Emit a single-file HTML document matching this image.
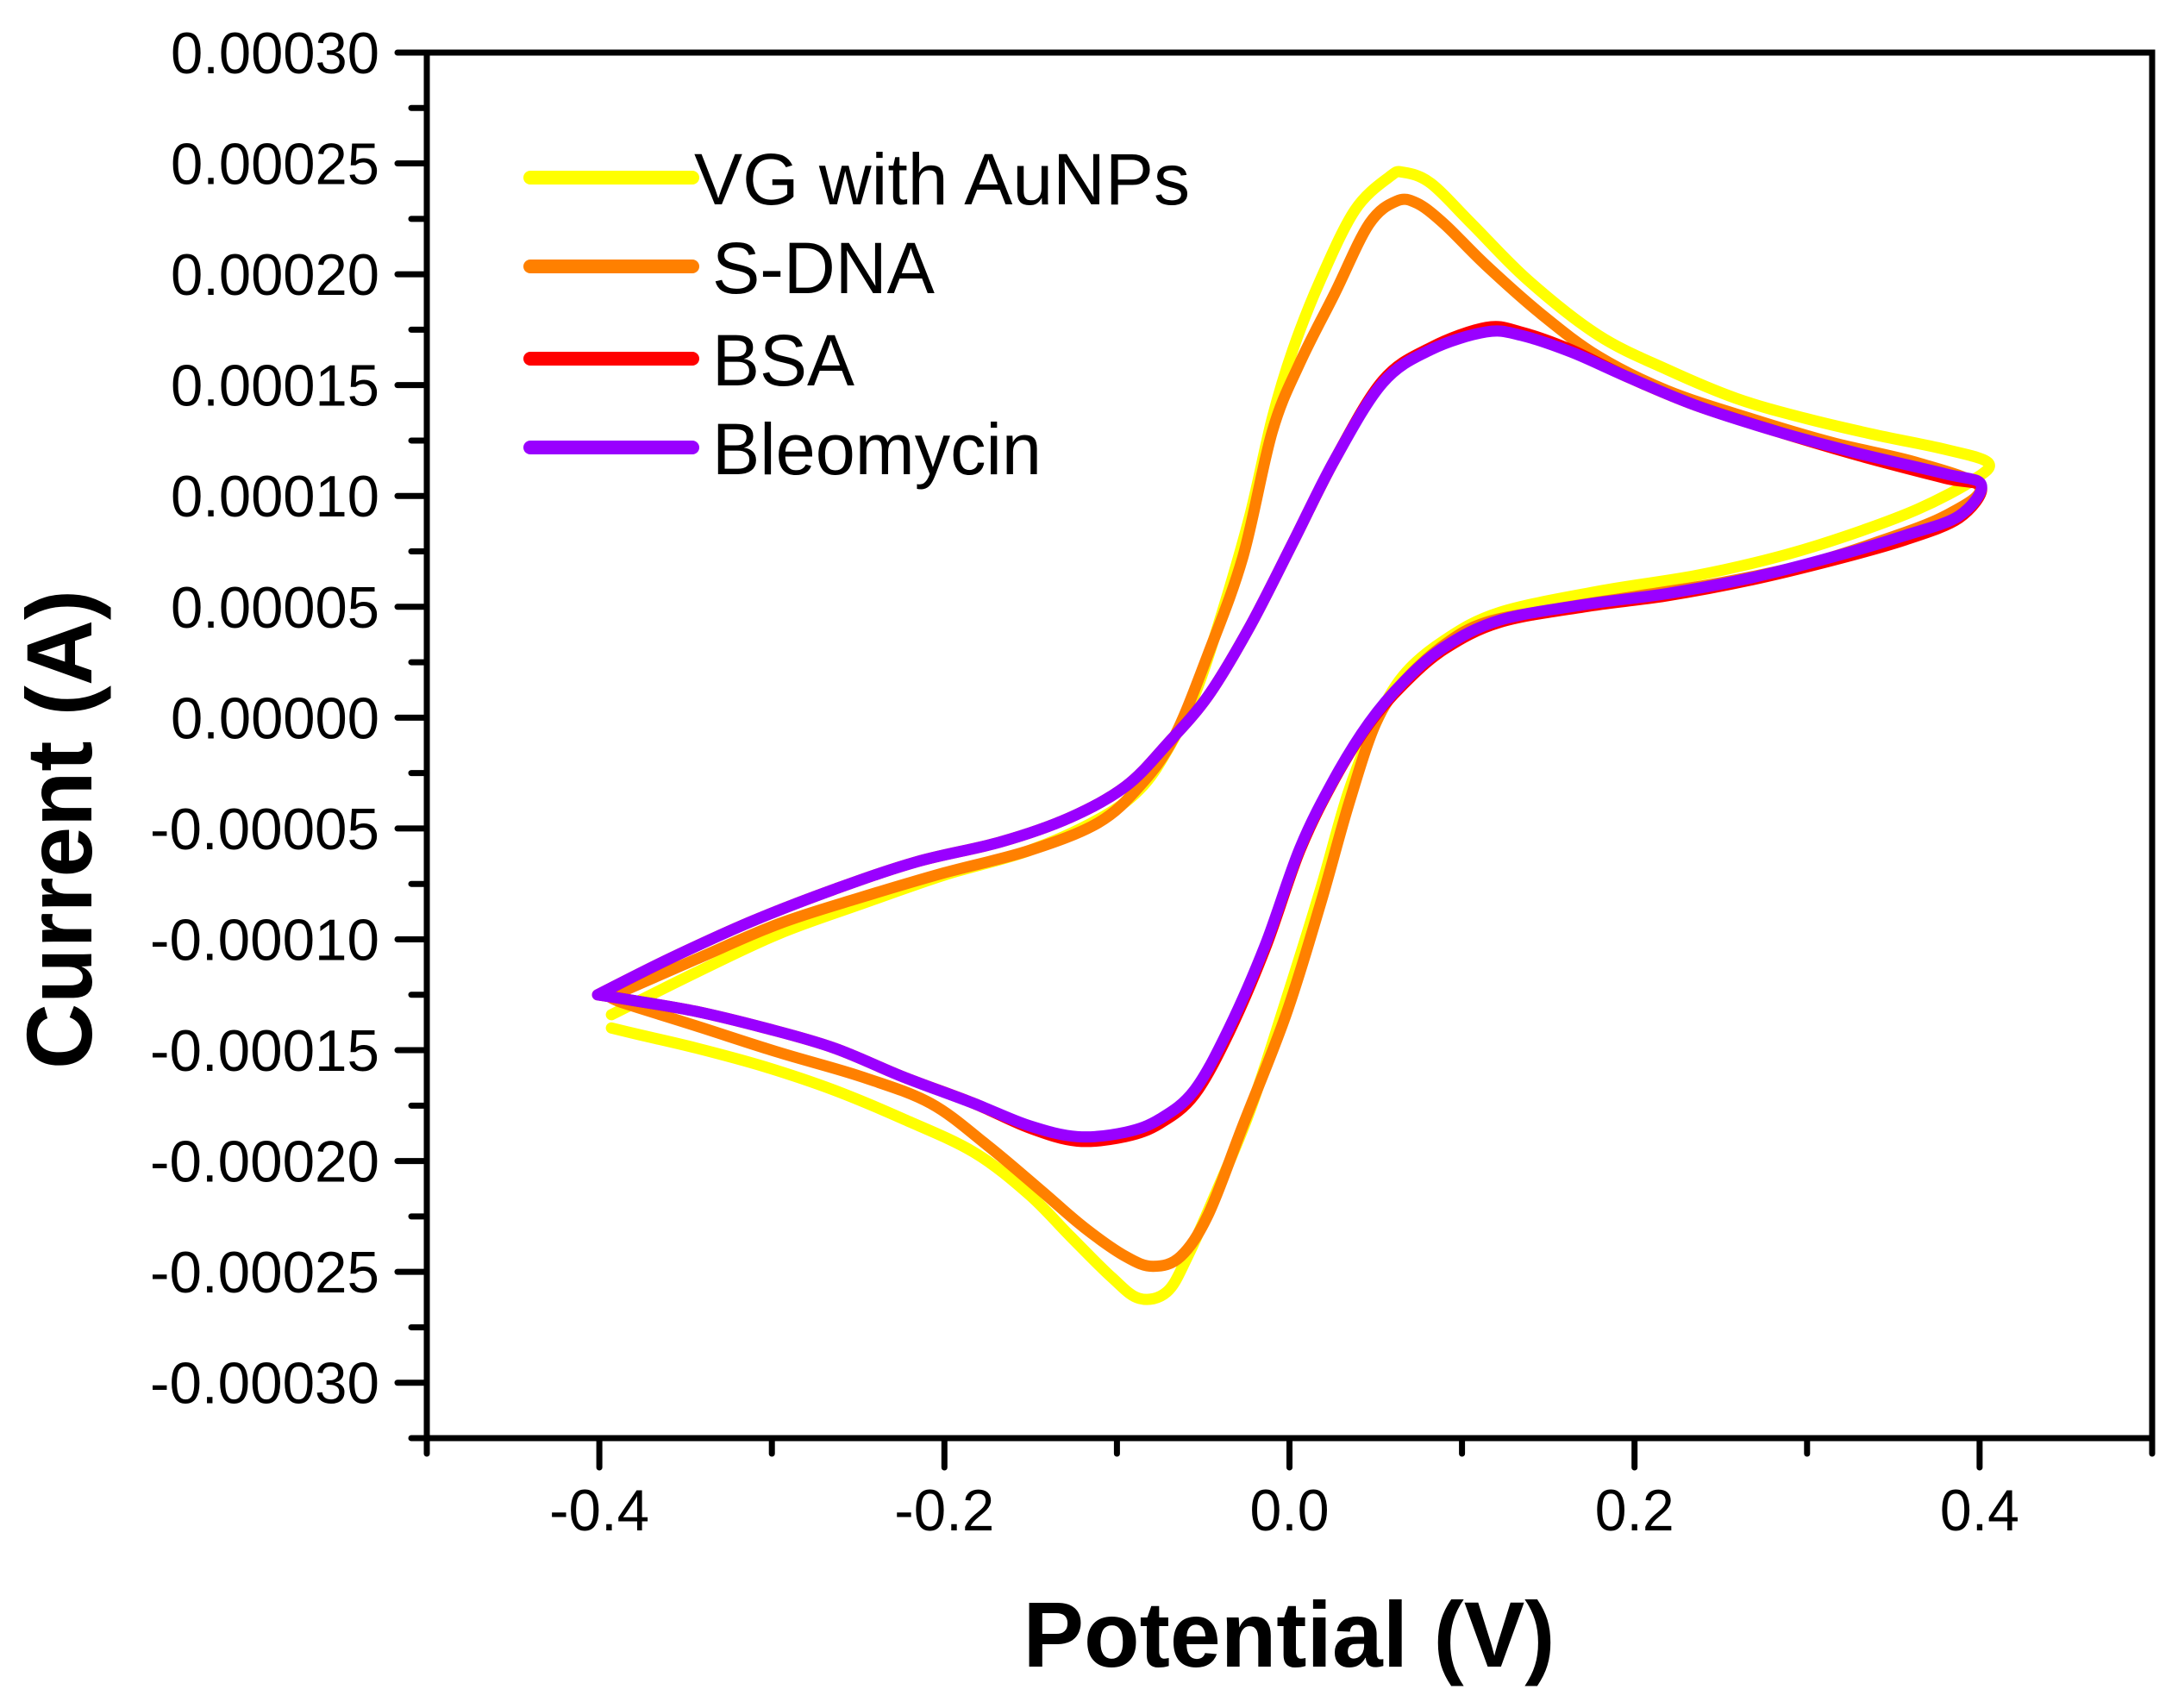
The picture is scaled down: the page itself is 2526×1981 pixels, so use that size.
<!DOCTYPE html>
<html><head><meta charset="utf-8"><style>
html,body{margin:0;padding:0;background:#fff;}
svg{display:block;font-family:"Liberation Sans",Arial,sans-serif;}
</style></head><body>
<svg id="chart" width="2526" height="1981" viewBox="0 0 2526 1981" xmlns="http://www.w3.org/2000/svg">
<rect x="0" y="0" width="2526" height="1981" fill="#fff"/>
<g id="curves"></g>
<g id="axes"></g>
<g id="legend"></g>
<text x="1495" y="1933" text-anchor="middle" font-weight="bold" font-size="108" textLength="617" lengthAdjust="spacingAndGlyphs">Potential (V)</text>
<text transform="translate(106,962) rotate(-90)" text-anchor="middle" font-weight="bold" font-size="108" textLength="556" lengthAdjust="spacingAndGlyphs">Current (A)</text>
</svg>
<script>
const xTicks=[-0.4,-0.2,0.0,0.2,0.4];
const xTickLabels=["-0.4","-0.2","0.0","0.2","0.4"];
const xMinorTicks=[-0.5,-0.3,-0.1,0.1,0.3,0.5];
const yTicks=[0.0003,0.00025,0.0002,0.00015,0.0001,0.00005,0,-0.00005,-0.0001,-0.00015,-0.0002,-0.00025,-0.0003];
const yTickLabels=["0.00030","0.00025","0.00020","0.00015","0.00010","0.00005","0.00000","-0.00005","-0.00010","-0.00015","-0.00020","-0.00025","-0.00030"];
const seriesNames=["VG with AuNPs","S-DNA","BSA","Bleomycin"];
// potentials in V, currents in microamps
const vgPotential=[-0.393,-0.344,-0.296,-0.248,-0.200,-0.151,-0.111,-0.087,-0.071,-0.055,-0.039,-0.023,-0.010,0.002,0.018,0.038,0.058,0.066,0.082,0.106,0.138,0.179,0.219,0.259,0.299,0.340,0.380,0.405,
 0.396,0.364,0.323,0.283,0.235,0.179,0.122,0.090,0.066,0.050,0.034,0.018,-0.002,-0.023,-0.043,-0.059,-0.071,-0.087,-0.103,-0.127,-0.151,-0.183,-0.224,-0.264,-0.304,-0.344,-0.377,-0.393];
const vgCurrent=[-134,-115,-97.5,-84,-71,-60,-46,-32.5,-15,10,47.5,91,135,166,197.5,229,244,246,241,222.5,197.5,172.5,157,144,135,127.5,121,115,
 107,94,82,72.5,64,57,47.5,35,19,-2.5,-34,-77.5,-127.5,-177.5,-215,-243,-259,-262,-252.5,-234,-215,-196,-181,-168,-157.5,-149,-143,-140];
const sdnaPotential=[-0.394,-0.344,-0.296,-0.248,-0.200,-0.151,-0.111,-0.087,-0.067,-0.047,-0.027,-0.010,0.006,0.026,0.046,0.062,0.074,0.090,0.114,0.146,0.179,0.219,0.267,0.315,0.364,0.400,
 0.380,0.340,0.299,0.251,0.203,0.154,0.114,0.090,0.066,0.050,0.034,0.018,-0.002,-0.027,-0.047,-0.063,-0.079,-0.095,-0.119,-0.143,-0.175,-0.208,-0.248,-0.296,-0.344,-0.385,-0.394];
const sdnaCurrent=[-126,-109,-93,-81,-70,-60,-47.5,-31,-9,29,72.5,129,160,191,222.5,233,232,222.5,204,182,163,147.5,135,124,115,104,
 91,79,69,61,55,49,43,33,16,-2.5,-40,-84,-134,-184,-224,-243,-247.5,-243,-230,-214,-193,-174,-162,-151,-139,-129,-126];
const bsaPotential=[-0.401,-0.360,-0.312,-0.264,-0.216,-0.167,-0.127,-0.095,-0.071,-0.047,-0.023,0.002,0.026,0.054,0.082,0.114,0.134,0.163,0.195,0.235,0.283,0.331,0.380,0.401,
 0.388,0.356,0.315,0.267,0.219,0.171,0.122,0.090,0.066,0.046,0.026,0.006,-0.014,-0.035,-0.055,-0.075,-0.095,-0.123,-0.151,-0.183,-0.224,-0.264,-0.304,-0.344,-0.381,-0.401];
const bsaCurrent=[-125,-109,-92,-77.5,-65,-56,-45,-31,-12,10,41,79,116,152,167,176,174,166,154,141,129,118,108,104,
 90,80,71,62,55,50,43,31,15,-3,-28,-60,-104,-142,-170,-183,-189,-191,-185,-174,-162,-149,-140,-132.5,-127.5,-125];
const bleoPotential=[-0.401,-0.360,-0.312,-0.264,-0.216,-0.167,-0.127,-0.095,-0.071,-0.047,-0.023,0.002,0.026,0.054,0.082,0.114,0.134,0.163,0.195,0.235,0.283,0.331,0.380,0.401,
 0.388,0.356,0.315,0.267,0.219,0.171,0.122,0.090,0.066,0.046,0.026,0.006,-0.014,-0.035,-0.055,-0.075,-0.095,-0.123,-0.151,-0.183,-0.224,-0.264,-0.304,-0.344,-0.381,-0.401];
const bleoCurrent=[-125,-109,-92,-77.5,-65,-56,-45,-31,-12,10,41,79,116,151,166,174,172.5,165,154,141,129,119,110,105,
 91,82,72.5,63,56,51,44,32,16,-2.5,-27.5,-59,-102.5,-140,-168,-181,-187,-189,-184,-174,-162,-149,-140,-132.5,-127.5,-125];

const NS="http://www.w3.org/2000/svg";
const X0=495,X1=2496,Y0=61,Y1=1668;
const xMin=-0.5,xMax=0.5,yMax=0.0003,yMin=-0.000325;
const xs=v=>X0+(v-xMin)/(xMax-xMin)*(X1-X0);
const ys=v=>Y0+(yMax-v)/(yMax-yMin)*(Y1-Y0);
function mk(tag,attrs,parent){const e=document.createElementNS(NS,tag);for(const k in attrs)e.setAttribute(k,attrs[k]);parent.appendChild(e);return e;}
function smooth(pts){let d="M"+pts[0][0].toFixed(1)+","+pts[0][1].toFixed(1);
 for(let i=0;i<pts.length-1;i++){const p0=pts[Math.max(0,i-1)],p1=pts[i],p2=pts[i+1],p3=pts[Math.min(pts.length-1,i+2)];
 const c1=[p1[0]+(p2[0]-p0[0])/6,p1[1]+(p2[1]-p0[1])/6],c2=[p2[0]-(p3[0]-p1[0])/6,p2[1]-(p3[1]-p1[1])/6];
 d+="C"+c1[0].toFixed(1)+","+c1[1].toFixed(1)+" "+c2[0].toFixed(1)+","+c2[1].toFixed(1)+" "+p2[0].toFixed(1)+","+p2[1].toFixed(1);}
 return d;}
const curves=document.getElementById('curves');
const series=[[vgPotential,vgCurrent,"#ffff00",13,"curve-vg-with-aunps"],[sdnaPotential,sdnaCurrent,"#ff8000",13,"curve-s-dna"],[bsaPotential,bsaCurrent,"#ff0000",13,"curve-bsa"],[bleoPotential,bleoCurrent,"#9900ff",13,"curve-bleomycin"]];
series.forEach(s=>{const pts=s[0].map((v,i)=>[xs(v),ys(s[1][i]*1e-6)]);
 const p=mk('path',{d:smooth(pts),fill:"none",stroke:s[2],"stroke-width":s[3],"stroke-linejoin":"round","stroke-linecap":"round"},curves);
 
 });
const axes=document.getElementById('axes');
const frame=mk('rect',{x:X0,y:Y0,width:X1-X0,height:Y1-Y0,fill:"none",stroke:"#000","stroke-width":7},axes);


xTicks.forEach((v,i)=>{const x=xs(v);
 const t=mk('line',{x1:x,y1:Y1,x2:x,y2:Y1+34,stroke:"#000","stroke-width":7,"stroke-linecap":"round"},axes);
 
 
 const neg=xTickLabels[i].charAt(0)==="-";
 const l=mk('text',{x:x,y:1775,"text-anchor":"middle","font-size":68,textLength:neg?116:92,lengthAdjust:"spacingAndGlyphs"},axes);l.textContent=xTickLabels[i];
 
 });
xMinorTicks.forEach(v=>{const x=xs(v);
 const t=mk('line',{x1:x,y1:Y1,x2:x,y2:Y1+18,stroke:"#000","stroke-width":7,"stroke-linecap":"round"},axes);
 
 });
yTicks.forEach((v,i)=>{const y=ys(v);
 const t=mk('line',{x1:X0,y1:y,x2:X0-34,y2:y,stroke:"#000","stroke-width":7,"stroke-linecap":"round"},axes);
 
 
 const m=mk('line',{x1:X0,y1:ys(v-0.000025),x2:X0-18,y2:ys(v-0.000025),stroke:"#000","stroke-width":7,"stroke-linecap":"round"},axes);
 
 
 const neg=yTickLabels[i].charAt(0)==="-";
 const l=mk('text',{x:440,y:y+24,"text-anchor":"end","font-size":68,textLength:neg?266:242,lengthAdjust:"spacingAndGlyphs"},axes);l.textContent=yTickLabels[i];
 
 });
const legend=document.getElementById('legend');
const legY=[206,309,416,519],legTx=[805,826,826,826],legLen=[575,258,165,382];
series.forEach((s,i)=>{
 const ln=mk('line',{x1:615,y1:legY[i],x2:803,y2:legY[i],stroke:s[2],"stroke-width":16,"stroke-linecap":"round"},legend);
 
 
 const t=mk('text',{x:legTx[i],y:legY[i]+31,"font-size":84,textLength:legLen[i],lengthAdjust:"spacingAndGlyphs"},legend);t.textContent=seriesNames[i];
 
 });
</script>
</body></html>
